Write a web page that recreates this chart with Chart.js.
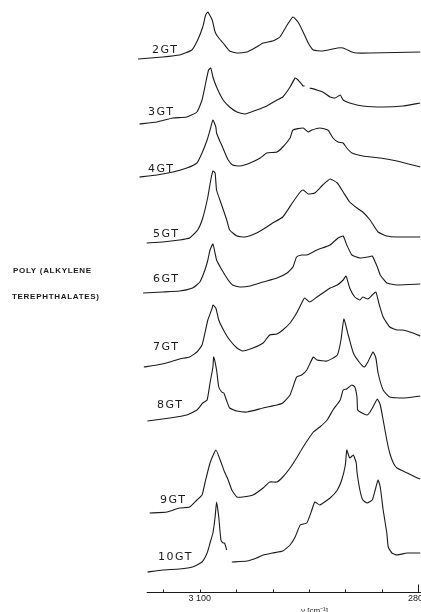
<!DOCTYPE html>
<html><head><meta charset="utf-8">
<script src="https://cdn.jsdelivr.net/npm/chart.js@4"></script>
<style>html,body{margin:0;padding:0;background:#fff;overflow:hidden}#wrap{width:421px;height:612px;position:relative}</style>
</head><body><div id="wrap"><canvas id="c" width="421" height="612"></canvas></div>
<script>
// Sample names (top to bottom)
const seriesNames = ['2GT','3GT','4GT','5GT','6GT','7GT','8GT','9GT','10GT'];
// vertical stacking offsets (arbitrary intensity units)
const offsets = [533,468,415,349,299,225,171,79,20];

// wavenumbers (cm^-1) and relative intensities
const wn2GT = [3185,3151,3128,3111,3103,3096,3092,3089,3083,3079,3075,3068,3059,3049,3035,3022,3013,3000,2990,2980,2972,2965,2958,2951,2944,2931,2911,2903,2891,2884,2866,2797];
const ab2GT = [0,2,4,9,19,32,44,47,39,27,22,16,8,6,7,12,16,18,22,34,42,37,27,16,9,8,11,11,7,6,6,7];

const wn3GT = [3183,3159,3137,3118,3104,3097,3092,3088,3085,3082,3077,3068,3059,3049,3038,3022,3008,2994,2986,2976,2969,2965,2958,2956,2954,2949,2939,2931,2921,2914,2907,2903,2894,2876,2848,2821,2797];
const ab3GT = [0,2,6,7,12,24,41,54,56,47,37,24,17,12,10,14,18,24,27,37,46,44,38,38,null,36,34,32,27,26,29,24,21,18,17,18,21];

const wn4GT = [3183,3159,3137,3118,3104,3097,3090,3086,3082,3078,3077,3072,3070,3066,3061,3055,3045,3031,3017,3008,2994,2986,2976,2972,2958,2951,2946,2935,2924,2917,2910,2903,2898,2891,2876,2852,2829,2797];
const ab4GT = [0,2,5,9,14,24,37,47,57,50,44,35,32,25,17,12,11,14,19,24,25,30,39,47,49,45,47,49,47,39,35,34,29,24,21,19,16,10];

const wn5GT = [3173,3151,3128,3114,3103,3096,3089,3085,3082,3079,3077,3070,3063,3059,3049,3038,3022,3008,3000,2986,2972,2962,2958,2951,2942,2931,2921,2911,2903,2894,2884,2876,2866,2855,2843,2829,2797];
const ab5GT = [0,1,3,5,13,25,46,63,72,70,53,38,23,13,7,6,10,16,20,26,41,51,53,49,50,58,64,60,51,41,35,31,23,11,7,6,6];

const wn6GT = [3178,3151,3128,3110,3100,3093,3089,3086,3082,3077,3072,3068,3061,3055,3045,3031,3013,2994,2980,2972,2967,2960,2953,2939,2921,2910,2903,2898,2891,2880,2869,2863,2859,2856,2852,2843,2829,2797];
const ab6GT = [0,1,2,5,11,23,33,43,49,33,26,21,13,8,6,7,11,15,20,26,36,38,38,43,48,55,57,48,38,35,36,37,31,26,18,10,8,9];

const wn7GT = [3177,3159,3141,3128,3114,3104,3097,3093,3089,3083,3082,3078,3074,3066,3059,3049,3041,3027,3013,3004,2994,2986,2976,2967,2960,2956,2949,2939,2931,2921,2911,2903,2899,2894,2887,2880,2876,2869,2863,2858,2854,2848,2839,2829,2821,2807,2797];
const ab7GT = [0,2,5,8,10,15,22,34,47,59,62,59,47,35,27,19,16,19,24,32,33,37,44,54,64,69,65,70,74,79,82,87,91,79,70,67,70,68,72,75,64,50,40,37,37,34,31];

const wn8GT = [3172,3141,3118,3104,3096,3090,3086,3082,3081,3077,3074,3070,3067,3063,3059,3049,3035,3013,2994,2986,2976,2967,2960,2953,2944,2939,2925,2911,2906,2902,2896,2889,2880,2874,2869,2862,2858,2855,2848,2839,2821,2797];
const ab8GT = [0,3,6,11,18,21,38,54,64,51,34,29,28,20,13,10,9,13,16,18,26,44,46,51,64,61,60,66,81,102,86,68,58,54,59,69,63,48,31,24,23,25];

const wn9GT = [3169,3145,3128,3114,3104,3097,3093,3086,3078,3072,3066,3061,3056,3049,3041,3027,3013,3004,2994,2986,2976,2967,2958,2944,2935,2925,2917,2907,2903,2898,2895,2891,2887,2884,2883,2877,2870,2866,2862,2856,2852,2848,2843,2839,2834,2829,2815,2801,2797];
const ab9GT = [0,1,5,6,13,18,30,50,63,53,41,33,23,16,16,18,25,31,31,36,45,55,66,81,86,93,103,113,123,124,126,128,126,116,103,100,98,101,106,114,108,93,73,60,50,45,40,35,34];

const wn10GT = [3172,3151,3128,3110,3097,3090,3086,3082,3079,3077,3074,3071,3068,3066,3063,3060,3056,3035,3022,3013,3000,2986,2976,2969,2962,2953,2946,2942,2935,2921,2911,2905,2900,2898,2894,2889,2885,2884,2880,2876,2870,2863,2859,2855,2852,2848,2843,2841,2836,2829,2815,2797];
const ab10GT = [0,2,3,5,10,19,29,39,55,70,55,32,29,29,22,null,10,11,14,17,19,21,27,35,47,49,62,70,67,74,82,92,107,122,114,117,109,100,82,72,69,72,82,92,85,62,39,25,19,17,19,19];

// x-axis ticks
const axisTicks = [3150,3100,3050,3000,2950,2900,2850,2800];
const axisTickLabels = {3100:'3 100', 2800:'2800'};
const axisTitle = 'ν [cm⁻¹]';
const sideTitle = ['POLY (ALKYLENE','TEREPHTHALATES)'];

const wnList = [wn2GT,wn3GT,wn4GT,wn5GT,wn6GT,wn7GT,wn8GT,wn9GT,wn10GT];
const abList = [ab2GT,ab3GT,ab4GT,ab5GT,ab6GT,ab7GT,ab8GT,ab9GT,ab10GT];

// label placement (layout only): left x in px, baseline offset in px above trace baseline
const labelLayout = [[152,6],[148,9],[148,5],[153,6],[153,11],[153,17],[157,13],[160,10],[158,12]];

const datasets = seriesNames.map((name,k)=>({
  label:name,
  data: wnList[k].map((x,i)=>({x:x, y: abList[k][i]===null ? null : offsets[k]+abList[k][i]})),
  borderColor:'#1a1a1a', borderWidth:1.1, pointRadius:0, tension:0.15, spanGaps:false, fill:false
}));

const decor = {
  id:'decor',
  afterDraw(chart){
    const ctx = chart.ctx, xs = chart.scales.x, ys = chart.scales.y, ca = chart.chartArea;
    ctx.save();
    // axis line
    const yAxis = ca.bottom + 0.5;
    ctx.strokeStyle = '#1a1a1a'; ctx.lineWidth = 1.2;
    ctx.beginPath(); ctx.moveTo(xs.getPixelForValue(3173), yAxis); ctx.lineTo(chart.width, yAxis); ctx.stroke();
    ctx.lineWidth = 1;
    axisTicks.forEach(t=>{
      const px = Math.round(xs.getPixelForValue(t))+0.5;
      const h = t===2800 ? 8 : 3;
      ctx.beginPath(); ctx.moveTo(px, yAxis); ctx.lineTo(px, yAxis-h); ctx.stroke();
    });
    ctx.fillStyle = '#1a1a1a';
    ctx.font = '9px "Liberation Sans", Arial, sans-serif';
    ctx.textAlign = 'center'; ctx.textBaseline = 'middle';
    Object.keys(axisTickLabels).forEach(k=>{
      ctx.fillText(axisTickLabels[k], xs.getPixelForValue(+k), 599);
    });
    ctx.textAlign = 'left'; ctx.textBaseline = 'top';
    ctx.font = '8px "Liberation Sans", Arial, sans-serif';
    ctx.fillText(axisTitle, 301, 607);
    // side title
    ctx.font = 'bold 8px "Liberation Sans", Arial, sans-serif';
    ctx.textBaseline = 'middle';
    ctx.letterSpacing = '0.7px';
    ctx.fillText(sideTitle[0], 13, 271);
    ctx.fillText(sideTitle[1], 12, 297);
    // series labels
    ctx.font = '11px "DejaVu Sans", sans-serif';
    ctx.letterSpacing = '1.5px';
    ctx.textBaseline = 'alphabetic';
    seriesNames.forEach((n,k)=>{
      const base = ys.getPixelForValue(offsets[k]);
      ctx.fillText(n, labelLayout[k][0], base - labelLayout[k][1]);
    });
    ctx.restore();
  }
};

new Chart(document.getElementById('c'), {
  type:'line',
  data:{datasets},
  options:{
    responsive:false, devicePixelRatio:1, animation:false,
    layout:{padding:{left:138,right:0,top:0,bottom:20}},
    plugins:{legend:{display:false}, tooltip:{enabled:false}},
    scales:{
      x:{type:'linear', reverse:true, min:2796, max:3185, display:false},
      y:{type:'linear', min:0, max:592, display:false}
    }
  },
  plugins:[decor]
});
</script></body></html>
